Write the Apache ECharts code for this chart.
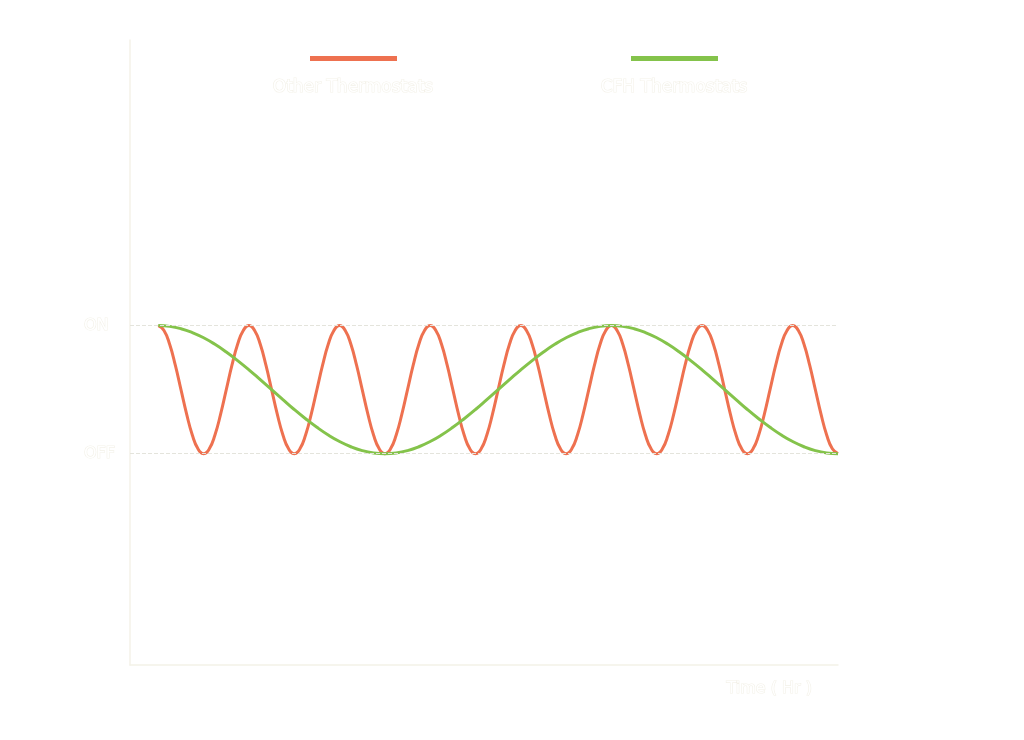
<!DOCTYPE html>
<html>
<head>
<meta charset="utf-8">
<script src="https://cdn.jsdelivr.net/npm/echarts@6/dist/echarts.min.js"></script>
<style>html,body{margin:0;padding:0;background:#fff;}#c{width:1024px;height:740px;}</style>
</head>
<body>
<div id="c"></div>
<script>
var seriesNames = ['Other Thermostats', 'CFH Thermostats'];
var yTickLabels = ['OFF', 'ON'];
var xAxisName = 'Time ( Hr )';
// Other thermostats, sampled every 0.2 h
var otherTimes = [0,0.2,0.4,0.6,0.8,1,1.2,1.4,1.6,1.8,2,2.2,2.4,2.6,2.8,3,3.2,3.4,3.6,3.8,4,4.2,4.4,4.6,4.8,5,5.2,5.4,5.6,5.8,6,6.2,6.4,6.6,6.8,7,7.2,7.4,7.6,7.8,8,8.2,8.4,8.6,8.8,9,9.2,9.4,9.6,9.8,10,10.2,10.4,10.6,10.8,11,11.2,11.4,11.6,11.8,12,12.2,12.4,12.6,12.8,13,13.2,13.4,13.6,13.8,14,14.2,14.4,14.6,14.8,15,15.2,15.4,15.6,15.8,16,16.2,16.4,16.6,16.8,17,17.2,17.4,17.6,17.8,18,18.2,18.4,18.6,18.8,19,19.2,19.4,19.6,19.8,20,20.2,20.4,20.6,20.8,21,21.2,21.4,21.6,21.8,22,22.2,22.4,22.6,22.8,23,23.2,23.4,23.6,23.8,24];
var otherValues = [
1,0.962,0.854,0.691,0.5,0.309,0.146,0.038,0,0.038,0.146,0.309,0.5,0.691,0.854,0.962,
1,0.962,0.854,0.691,0.5,0.309,0.146,0.038,0,0.038,0.146,0.309,0.5,0.691,0.854,0.962,
1,0.962,0.854,0.691,0.5,0.309,0.146,0.038,0,0.038,0.146,0.309,0.5,0.691,0.854,0.962,
1,0.962,0.854,0.691,0.5,0.309,0.146,0.038,0,0.038,0.146,0.309,0.5,0.691,0.854,0.962,
1,0.962,0.854,0.691,0.5,0.309,0.146,0.038,0,0.038,0.146,0.309,0.5,0.691,0.854,0.962,
1,0.962,0.854,0.691,0.5,0.309,0.146,0.038,0,0.038,0.146,0.309,0.5,0.691,0.854,0.962,
1,0.962,0.854,0.691,0.5,0.309,0.146,0.038,0,0.038,0.146,0.309,0.5,0.691,0.854,0.962,
1,0.962,0.854,0.691,0.5,0.309,0.146,0.038,0];
// CFH thermostats, sampled every 0.4 h
var cfhTimes = [0,0.4,0.8,1.2,1.6,2,2.4,2.8,3.2,3.6,4,4.4,4.8,5.2,5.6,6,6.4,6.8,7.2,7.6,8,8.4,8.8,9.2,9.6,10,10.4,10.8,11.2,11.6,12,12.4,12.8,13.2,13.6,14,14.4,14.8,15.2,15.6,16,16.4,16.8,17.2,17.6,18,18.4,18.8,19.2,19.6,20,20.4,20.8,21.2,21.6,22,22.4,22.8,23.2,23.6,24];
var cfhValues = [1,0.994,0.976,0.946,0.905,0.854,0.794,0.727,0.655,0.578,0.5,0.422,0.345,0.273,0.206,0.146,0.095,0.054,0.024,0.006,0,0.006,0.024,0.054,0.095,0.146,0.206,0.273,0.345,0.422,0.5,0.578,0.655,0.727,0.794,0.854,0.905,0.946,0.976,0.994,1,0.994,0.976,0.946,0.905,0.854,0.794,0.727,0.655,0.578,0.5,0.422,0.345,0.273,0.206,0.146,0.095,0.054,0.024,0.006,0];

function pairs(ts, vals){ return ts.map(function(t,i){ return [t, vals[i]]; }); }

var faintText = {color:'#ffffff', textBorderColor:'rgba(215,210,180,0.3)', textBorderWidth:1.2};

var chart = echarts.init(document.getElementById('c'));
chart.setOption({
  backgroundColor:'#ffffff',
  animation:false,
  grid:{left:130, right:186, top:40, bottom:75},
  legend:[
    {left:305, top:51, itemWidth:87, itemHeight:5, icon:'rect', data:[seriesNames[0]], formatter:function(){return '';}, selectedMode:false},
    {left:626, top:51, itemWidth:87, itemHeight:5, icon:'rect', data:[seriesNames[1]], formatter:function(){return '';}, selectedMode:false}
  ],
  graphic:[
    {type:'text', x:353, y:88, style:{text:seriesNames[0], fill:'#ffffff', stroke:'rgba(215,210,180,0.3)', lineWidth:1.2, font:'17px "DejaVu Sans", sans-serif', textAlign:'center', textVerticalAlign:'middle'}},
    {type:'text', x:674, y:88, style:{text:seriesNames[1], fill:'#ffffff', stroke:'rgba(215,210,180,0.3)', lineWidth:1.2, font:'17px "DejaVu Sans", sans-serif', textAlign:'center', textVerticalAlign:'middle'}}
  ],
  xAxis:{
    type:'value', min:-1, max:24,
    name:xAxisName, nameLocation:'end', nameGap:-26,
    nameTextStyle:Object.assign({fontSize:16, fontFamily:'"DejaVu Sans", sans-serif', align:'right', verticalAlign:'top', padding:[16,0,0,0]}, faintText),
    axisLine:{show:true, onZero:false, lineStyle:{color:'#f4f2e8', width:1.5}},
    axisTick:{show:false}, axisLabel:{show:false}, splitLine:{show:false}
  },
  yAxis:{
    type:'value', min:-1.65, max:3.23,
    axisLine:{show:true, onZero:false, lineStyle:{color:'#f4f2e8', width:1.5}},
    axisTick:{show:false},
    axisLabel:Object.assign({show:true, customValues:[0,1], align:'left', margin:46, fontSize:16, fontFamily:'"DejaVu Sans", sans-serif',
      formatter:function(v){ return v===0 ? yTickLabels[0] : (v===1 ? yTickLabels[1] : ''); }}, faintText),
    splitLine:{show:false}
  },
  series:[
    {name:seriesNames[0], type:'line', data:pairs(otherTimes, otherValues), smooth:true, showSymbol:false, symbol:'none',
      lineStyle:{color:'#ee7150', width:3}, itemStyle:{color:'#ee7150'},
      markLine:{silent:true, symbol:'none', label:{show:false}, lineStyle:{color:'#e4e4dc', type:'dashed', width:1},
        data:[{yAxis:0},{yAxis:1}]}},
    {name:seriesNames[1], type:'line', data:pairs(cfhTimes, cfhValues), smooth:true, showSymbol:false, symbol:'none',
      lineStyle:{color:'#84c34b', width:3}, itemStyle:{color:'#84c34b'}}
  ]
});
</script>
</body>
</html>
